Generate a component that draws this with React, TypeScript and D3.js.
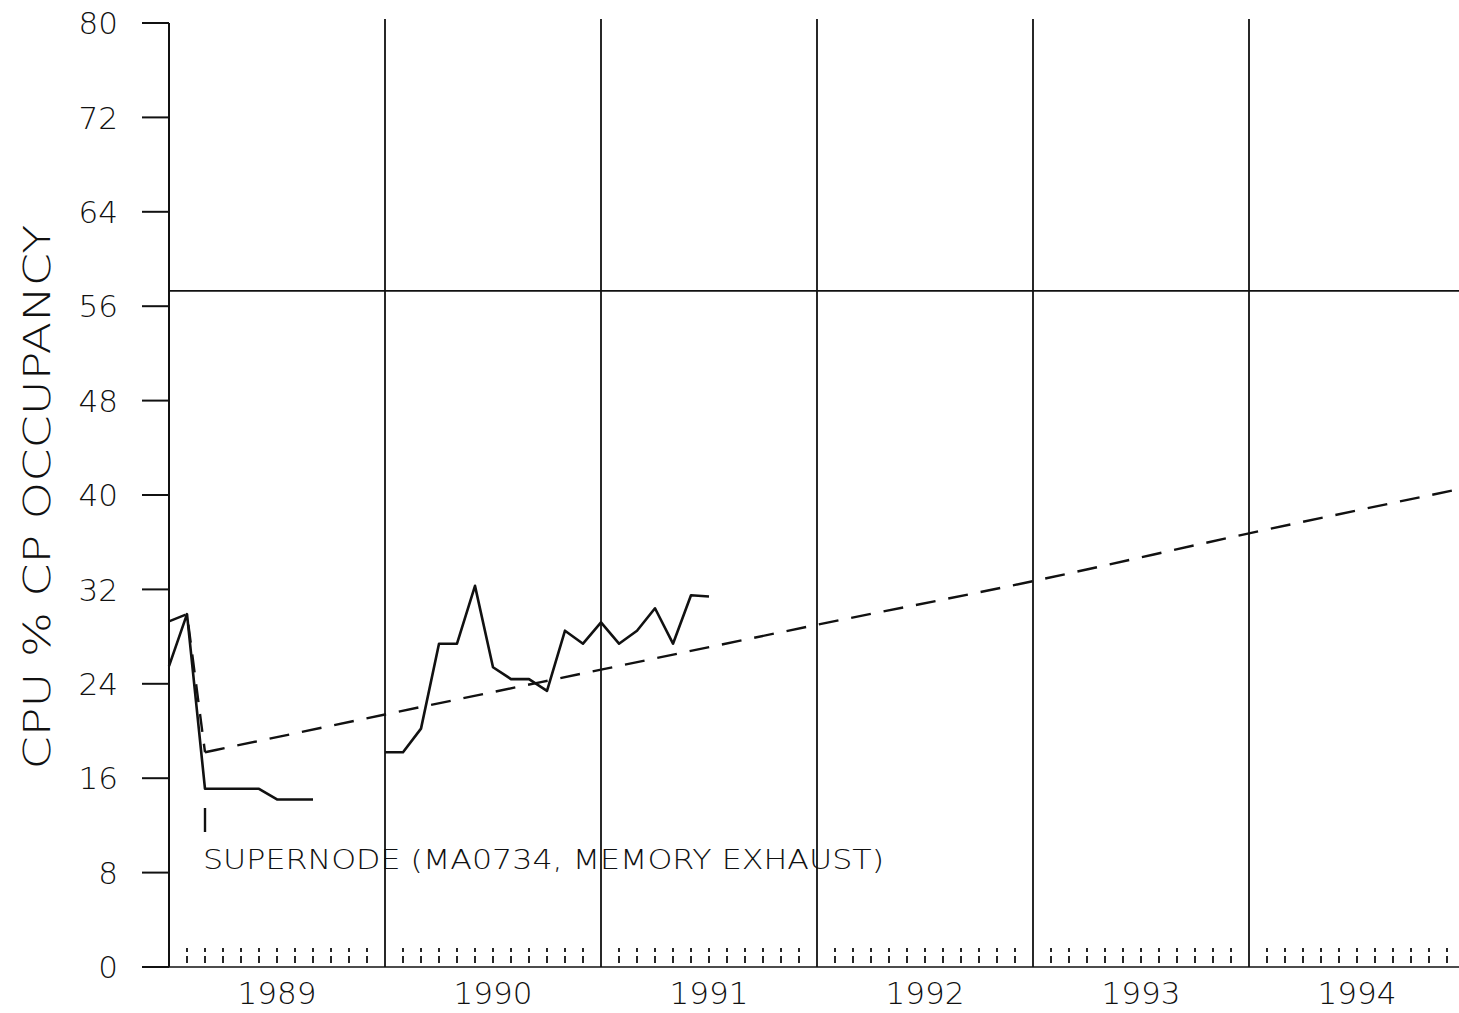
import React from "react";
import * as d3 from "d3";

// months counted from January 1989
const yearLabels = ["1989", "1990", "1991", "1992", "1993", "1994"];
const yTicks = [0, 8, 16, 24, 32, 40, 48, 56, 64, 72, 80];

const actualA_months = [0, 1, 2, 3, 4, 5, 6, 7, 8];
const actualA_values = [25.5, 29.9, 15.1, 15.1, 15.1, 15.1, 14.2, 14.2, 14.2];

const actualB_months = [12, 13, 14, 15, 16, 17, 18, 19, 20, 21, 22, 23, 24, 25, 26, 27, 28, 29, 30];
const actualB_values = [18.2, 18.2, 20.2, 27.4, 27.4, 32.3, 25.4, 24.4, 24.4, 23.4, 28.5, 27.4, 29.2, 27.4, 28.5, 30.4, 27.4, 31.5, 31.4];

const dropMonths = [0, 1, 2];
const dropValues = [29.3, 29.9, 18.2];

const trendMonths = [2, 12, 24, 36, 48, 60, 72];
const trendValues = [18.2, 21.4, 25.2, 29.0, 32.7, 36.75, 40.6];

const threshold = 57.3;
const annotation = "SUPERNODE (MA0734, MEMORY EXHAUST)";
const annotationMonth = 2;
const yTitle = "CPU % CP OCCUPANCY";

const W = 1459;
const H = 1013;
const font = "'DejaVu Sans', 'Open Sans', sans-serif";

export default function App() {
  const x = d3.scaleLinear().domain([0, 72]).range([169, 1465]);
  const y = d3.scaleLinear().domain([0, 80]).range([967, 23]);
  const lineLin = d3.line<[number, number]>().x((d) => x(d[0])).y((d) => y(d[1]));
  const lineSmooth = d3
    .line<[number, number]>()
    .x((d) => x(d[0]))
    .y((d) => y(d[1]))
    .curve(d3.curveMonotoneX);

  const zip = (a: number[], b: number[]) => a.map((m, i) => [m, b[i]] as [number, number]);

  const monthTicks: number[] = [];
  for (let m = 1; m < 72; m++) if (m % 12 !== 0) monthTicks.push(m);

  return (
    <svg
      width={W}
      height={H}
      style={{ position: "absolute", left: 0, top: 0, background: "#fff" }}
      fontFamily={font}
    >
      <rect x={0} y={0} width={W} height={H} fill="#fff" />
      {/* left axis */}
      <line x1={x(0)} x2={x(0)} y1={y(80)} y2={y(0)} stroke="#111" strokeWidth={2} />
      {/* year lines */}
      {yearLabels.slice(1).map((_, i) => (
        <line key={i} x1={x((i + 1) * 12)} x2={x((i + 1) * 12)} y1={19} y2={y(0)} stroke="#111" strokeWidth={1.8} />
      ))}
      {/* baseline */}
      <line x1={142} x2={W} y1={y(0)} y2={y(0)} stroke="#111" strokeWidth={1.6} />
      {/* threshold */}
      <line x1={x(0)} x2={W} y1={y(threshold)} y2={y(threshold)} stroke="#111" strokeWidth={1.6} />
      {/* y ticks */}
      {yTicks.map((t) => (
        <g key={t}>
          <line x1={142} x2={x(0)} y1={y(t)} y2={y(t)} stroke="#111" strokeWidth={2} />
          <text x={118} y={y(t)} dy="0.36em" textAnchor="end" fontSize={31} fill="#111" fontWeight={200}>
            {t}
          </text>
        </g>
      ))}
      {/* month ticks */}
      {monthTicks.map((m) => (
        <line
          key={m}
          x1={x(m)}
          x2={x(m)}
          y1={y(0) - 4}
          y2={y(0) - 19}
          stroke="#111"
          strokeWidth={1.8}
          strokeDasharray="7 4"
        />
      ))}
      {/* year labels */}
      {yearLabels.map((l, i) => (
        <text key={l} x={x(i * 12 + 6)} y={1004} textAnchor="middle" fontSize={31} fill="#111" fontWeight={200}>
          {l}
        </text>
      ))}
      {/* y title */}
      <text
        transform={`translate(50, ${497}) rotate(-90)`}
        textAnchor="middle"
        fontSize={38}
        fill="#111"
        fontWeight={200}
        textLength={545}
        lengthAdjust="spacingAndGlyphs"
      >
        {yTitle}
      </text>
      {/* trend dashed */}
      <path d={lineLin(zip(dropMonths, dropValues)) || ""} fill="none" stroke="#111" strokeWidth={2.4} strokeDasharray="18 12" />
      <path d={lineSmooth(zip(trendMonths, trendValues)) || ""} fill="none" stroke="#111" strokeWidth={2.4} strokeDasharray="20 13" />
      {/* actual lines */}
      <path d={lineLin(zip(actualA_months, actualA_values)) || ""} fill="none" stroke="#111" strokeWidth={2.6} strokeLinejoin="round" />
      <path d={lineLin(zip(actualB_months, actualB_values)) || ""} fill="none" stroke="#111" strokeWidth={2.6} strokeLinejoin="round" />
      {/* annotation */}
      <line x1={x(annotationMonth)} x2={x(annotationMonth)} y1={808} y2={832} stroke="#111" strokeWidth={2.4} />
      <text x={203} y={869} fontSize={26} fill="#111" textLength={681} lengthAdjust="spacingAndGlyphs" fontWeight={200}>
        {annotation}
      </text>
    </svg>
  );
}
